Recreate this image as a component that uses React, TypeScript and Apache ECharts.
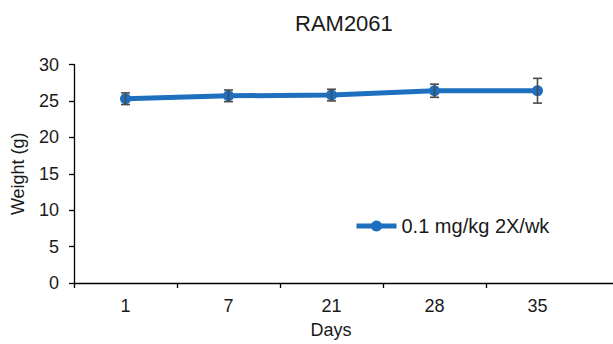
import React, { useEffect, useRef } from 'react';
import * as echarts from 'echarts';

const days = ['1', '7', '21', '28', '35'];
const weights = [25.3, 25.7, 25.8, 26.4, 26.4];
const sems = [0.8, 0.8, 0.8, 0.9, 1.7];
const yTicks = [0, 5, 10, 15, 20, 25, 30];
const seriesName = '0.1 mg/kg 2X/wk';
const chartTitle = 'RAM2061';
const xName = 'Days';
const yName = 'Weight (g)';

const FONT = '"Liberation Sans", Arial, sans-serif';
const TEXT = '#1a1a1a';
const BLUE = '#1f6fbf';

export default function App() {
  const ref = useRef<HTMLDivElement>(null);
  useEffect(() => {
    const chart = echarts.init(ref.current!, null, { renderer: 'svg' });
    const pos = days.map((_, i) => i + 0.5);
    const tickPos = days.map((_, i) => i);
    chart.setOption({
      animation: false,
      textStyle: { fontFamily: FONT, color: TEXT },
      title: {
        text: chartTitle,
        left: 290,
        top: 7,
        textStyle: { fontFamily: FONT, fontSize: 22, fontWeight: 'normal', color: TEXT },
      },
      legend: {
        data: [seriesName],
        left: 349,
        top: 211,
        itemWidth: 40,
        itemHeight: 14,
        itemGap: 5,
        lineStyle: { width: 5, color: BLUE },
        itemStyle: { color: BLUE },
        textStyle: { fontFamily: FONT, fontSize: 20, color: TEXT },
      },
      grid: { left: 74, right: 0, top: 64.5, bottom: 61 },
      xAxis: {
        type: 'value',
        min: 0,
        max: 539 / 103,
        interval: 1,
        splitLine: { show: false },
        axisLine: { show: true, lineStyle: { color: '#000', width: 1.3 } },
        axisTick: {
          show: true,
          inside: false,
          length: 5,
          customValues: tickPos,
          lineStyle: { color: '#000', width: 1.3 },
        },
        axisLabel: {
          customValues: pos,
          margin: 14,
          fontSize: 18,
          color: TEXT,
          fontFamily: FONT,
          formatter: (v: number) => days[Math.round(v - 0.5)] ?? '',
        },
      },
      yAxis: {
        type: 'value',
        min: 0,
        max: 30,
        interval: 5,
        name: yName,
        nameLocation: 'middle',
        nameGap: 47,
        nameTextStyle: { fontFamily: FONT, fontSize: 18, color: TEXT },
        splitLine: { show: false },
        axisLine: { show: true, lineStyle: { color: '#000', width: 1.3 } },
        axisTick: { show: true, inside: false, length: 5, lineStyle: { color: '#000', width: 1.3 } },
        axisLabel: {
          margin: 15,
          fontSize: 18,
          color: TEXT,
          fontFamily: FONT,
          formatter: (v: number) => (yTicks.includes(v) ? String(v) : ''),
        },
      },
      graphic: [
        {
          type: 'text',
          x: 331,
          y: 321,
          style: {
            text: xName,
            fontFamily: FONT,
            fontSize: 18,
            fill: TEXT,
            textAlign: 'center',
          },
        },
      ],
      series: [
        {
          name: seriesName,
          type: 'line',
          data: pos.map((x, i) => [x, weights[i]]),
          symbol: 'circle',
          symbolSize: 11,
          lineStyle: { color: BLUE, width: 5 },
          itemStyle: { color: BLUE },
          z: 2,
        },
        {
          name: 'error',
          type: 'custom',
          z: 3,
          data: pos.map((x, i) => [x, weights[i], sems[i]]),
          renderItem: (params: any, api: any) => {
            const x = api.value(0);
            const m = api.value(1);
            const e = api.value(2);
            const top = api.coord([x, m + e]);
            const bot = api.coord([x, m - e]);
            const hw = 4.5;
            const style = { stroke: '#4a4a4a', lineWidth: 1.6 };
            return {
              type: 'group',
              children: [
                { type: 'line', shape: { x1: top[0], y1: top[1], x2: bot[0], y2: bot[1] }, style },
                { type: 'line', shape: { x1: top[0] - hw, y1: top[1], x2: top[0] + hw, y2: top[1] }, style },
                { type: 'line', shape: { x1: bot[0] - hw, y1: bot[1], x2: bot[0] + hw, y2: bot[1] }, style },
              ],
            };
          },
        },
      ],
    });
    return () => chart.dispose();
  }, []);
  return (
    <div
      ref={ref}
      style={{ position: 'fixed', left: 0, top: 0, width: 613, height: 344, background: '#fff' }}
    />
  );
}
